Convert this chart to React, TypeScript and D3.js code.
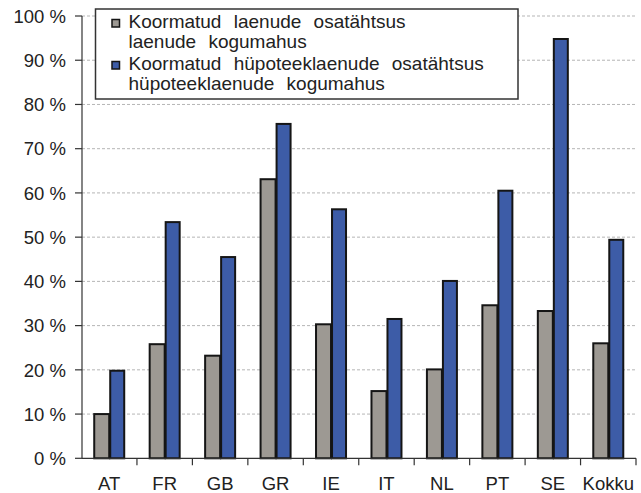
import React from "react";
import * as d3 from "d3";

const categories = ["AT", "FR", "GB", "GR", "IE", "IT", "NL", "PT", "SE", "Kokku"];
const seriesNames = [
  ["Koormatud laenude osatähtsus", "laenude kogumahus"],
  ["Koormatud hüpoteeklaenude osatähtsus", "hüpoteeklaenude kogumahus"],
];
const loansShare = [10, 25.8, 23.2, 63.1, 30.3, 15.2, 20.1, 34.6, 33.3, 26.0];
const mortgageShare = [19.8, 53.4, 45.5, 75.6, 56.3, 31.5, 40.1, 60.5, 94.8, 49.4];
const yTicks = [0, 10, 20, 30, 40, 50, 60, 70, 80, 90, 100];
const seriesKeys = ["loans", "mortgage"];
const colors = ["#9d9993", "#3d5ca7"];

const W = 641;
const H = 493;
const FONT = "'Liberation Sans', Arial, sans-serif";

export default function App() {
  const x = d3.scaleBand<string>().domain(categories).range([81.5, 636]).paddingInner(0).paddingOuter(0);
  const y = d3.scaleLinear().domain([0, 100]).range([458.3, 16]);
  const x1 = d3.scaleBand<string>().domain(seriesKeys).range([0, 32]);
  const off = (x.bandwidth() - 32) / 2;
  const values = [loansShare, mortgageShare];
  const text = "#222";

  return (
    <svg width={W} height={H} style={{ position: "absolute", left: 0, top: 0, background: "#fff" }} fontFamily={FONT}>
      <rect x={0} y={0} width={W} height={H} fill="#fff" />
      {/* gridlines */}
      {yTicks.filter((t) => t > 0).map((t) => (
        <line key={"g" + t} x1={82} x2={636} y1={y(t)} y2={y(t)} stroke="#b5b5b5" strokeWidth={1} strokeDasharray="3,2" />
      ))}
      {/* bars */}
      {categories.map((c, i) => (
        <g key={c}>
          {seriesKeys.map((k, s) => (
            <rect
              key={k}
              x={(x(c) as number) + off + (x1(k) as number) + 1}
              y={y(values[s][i])}
              width={x1.bandwidth() - 2 + (s === 0 ? 1 : 0)}
              height={y(0) - y(values[s][i])}
              fill={colors[s]}
              stroke="#151515"
              strokeWidth={2}
            />
          ))}
        </g>
      ))}
      {/* y axis */}
      <line x1={82} x2={82} y1={y(100)} y2={y(0)} stroke="#333" strokeWidth={1.2} />
      {yTicks.map((t) => (
        <g key={"t" + t}>
          <line x1={75} x2={82} y1={y(t)} y2={y(t)} stroke="#333" strokeWidth={1.2} />
          <text x={66} y={y(t)} dy="0.36em" textAnchor="end" fontSize={18.5} fill={text}>
            {t} %
          </text>
        </g>
      ))}
      {/* x axis */}
      <line x1={82} x2={636} y1={y(0)} y2={y(0)} stroke="#333" strokeWidth={1.2} />
      {categories.map((c) => (
        <line key={"xt" + c} x1={(x(c) as number) + x.bandwidth()} x2={(x(c) as number) + x.bandwidth()} y1={y(0)} y2={y(0) + 7} stroke="#333" strokeWidth={1.2} />
      ))}
      {categories.map((c) => (
        <text key={"xl" + c} x={(x(c) as number) + x.bandwidth() / 2} y={490} textAnchor="middle" fontSize={18.5} fill={text}>
          {c}
        </text>
      ))}
      {/* legend */}
      <rect x={95.5} y={9} width={422.5} height={90} fill="#fff" stroke="#333" strokeWidth={1.5} />
      {seriesNames.map((lines, s) => {
        const base = s === 0 ? 28.3 : 70.3;
        return (
          <g key={"lg" + s}>
            <rect x={112} y={base - 8.8} width={7.5} height={7.5} fill={colors[s]} stroke="#151515" strokeWidth={1.5} />
            {lines.map((ln, j) => (
              <text key={j} x={128.5} y={base + j * 19.2} fontSize={19} fill={text} style={{ wordSpacing: "7px" }}>
                {ln}
              </text>
            ))}
          </g>
        );
      })}
    </svg>
  );
}
